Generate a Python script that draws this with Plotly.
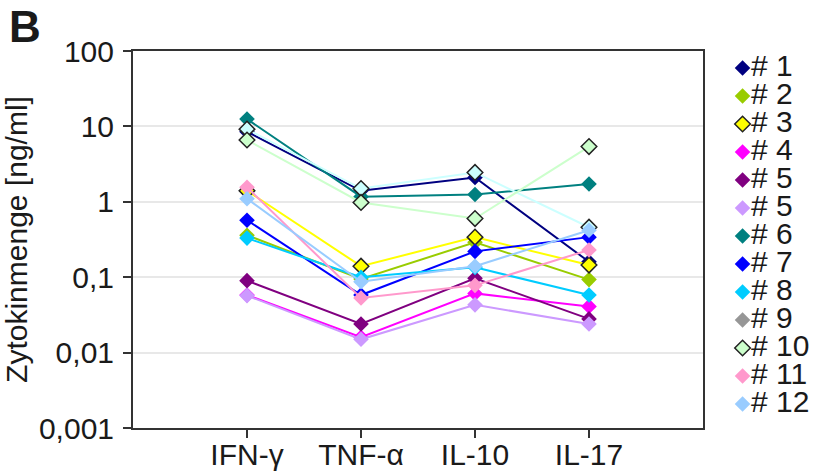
import plotly.graph_objects as go

# Cytokine panel: four cytokines, one line per donor
categories = ["IFN-γ", "TNF-α", "IL-10", "IL-17"]

series_names = ["# 1", "# 2", "# 3", "# 4", "# 5", "# 5", "# 6",
                "# 7", "# 8", "# 9", "# 10", "# 11", "# 12"]

d1 = [8.5, 1.4, 2.1, 0.16]
d2 = [0.36, 0.095, 0.29, 0.093]
d3 = [1.4, 0.14, 0.34, 0.145]
d4 = [0.058, 0.016, 0.061, 0.041]
d5a = [0.09, 0.024, 0.097, 0.028]
d5b = [0.057, 0.015, 0.043, 0.024]
d6 = [12.5, 1.17, 1.25, 1.72]
d7 = [0.57, 0.058, 0.22, 0.34]
d8 = [0.33, 0.10, 0.135, 0.058]
d9 = [9.2, 1.5, 2.45, 0.46]
d10 = [6.6, 0.98, 0.6, 5.4]
d11 = [1.56, 0.053, 0.078, 0.23]
d12 = [1.1, 0.087, 0.14, 0.42]

values = [d1, d2, d3, d4, d5a, d5b, d6, d7, d8, d9, d10, d11, d12]

colors = ["#000080", "#99cc00", "#ffff00", "#ff00ff", "#800080", "#cc99ff",
          "#008080", "#0000ff", "#00ccff", "#ccffff", "#ccffcc", "#ff99cc",
          "#99ccff"]
outlined = [False, False, True, False, False, False, False, False, False,
            True, True, False, False]
# key colours and outlines (donor 9 is keyed in plain grey)
key_colors = colors[:9] + ["#969696"] + colors[10:]
key_outlined = outlined[:9] + [False] + outlined[10:]

ytick_vals = [0.001, 0.01, 0.1, 1, 10, 100]
ytick_text = ["0,001", "0,01", "0,1", "1", "10", "100"]

FONT = "Liberation Sans, Arial, sans-serif"
INK = "#1a1a1a"
AXIS = "#333333"
EDGE = "#222222"
W, H = 818, 475
L = 133
PAPER_W = W - L

fig = go.Figure()
for name, vals, col, ol in zip(series_names, values, colors, outlined):
    fig.add_trace(go.Scatter(
        x=categories, y=vals, mode="lines+markers", name=name,
        line=dict(color=col, width=2),
        marker=dict(symbol="diamond", size=12, color=col,
                    line=dict(color=EDGE if ol else col,
                              width=1.5 if ol else 0)),
        showlegend=False, xaxis="x", yaxis="y"))

# Key: one row per donor, drawn on its own hidden axes
rows = list(range(len(series_names)))
fig.add_trace(go.Scatter(
    x=[0] * len(rows), y=rows, mode="markers+text",
    text=series_names, textposition="middle right",
    textfont=dict(size=30, family=FONT, color=INK),
    marker=dict(symbol="diamond", size=12, color=key_colors,
                line=dict(color=[EDGE if o else c for o, c in zip(key_outlined, key_colors)],
                          width=[1.5 if o else 0 for o in key_outlined])),
    showlegend=False, hoverinfo="skip", xaxis="x2", yaxis="y2", cliponaxis=False))

fig.update_layout(
    width=W, height=H,
    margin=dict(l=L, r=0, t=0, b=0),
    paper_bgcolor="white", plot_bgcolor="white",
    font=dict(family=FONT, color=INK, size=30),
    showlegend=False,
    annotations=[dict(text="<b>B</b>", xref="paper", yref="paper",
                      x=-(L - 7) / PAPER_W, y=1.0, xanchor="left", yanchor="top",
                      showarrow=False, font=dict(size=44, family=FONT, color=INK))],
    xaxis=dict(
        domain=[0, 570 / PAPER_W], automargin=False,
        type="category", categoryorder="array", categoryarray=categories,
        range=[-1, 4], showgrid=False, showline=True, linecolor=AXIS,
        linewidth=2, mirror=True, ticks="outside", ticklen=8, tickwidth=2,
        tickcolor=AXIS, tickfont=dict(size=30), ticklabelstandoff=-9,
        zeroline=False),
    yaxis=dict(
        domain=[47 / H, 424 / H], automargin=False,
        type="log", range=[-3, 2], tickvals=ytick_vals, ticktext=ytick_text,
        showgrid=True, gridcolor="#e8e8e8", gridwidth=2,
        showline=True, linecolor=AXIS, linewidth=2, mirror=True,
        ticks="outside", ticklen=8, tickwidth=2, tickcolor=AXIS,
        tickfont=dict(size=30), ticklabelstandoff=3,
        title=dict(text="Zytokinmenge [ng/ml]", font=dict(size=30), standoff=6)),
    xaxis2=dict(domain=[(735 - L) / PAPER_W, 1], range=[-0.1, 1], visible=False,
                fixedrange=True),
    yaxis2=dict(domain=[(H - 418) / H, (H - 54) / H], range=[12.5, -0.5],
                visible=False, fixedrange=True, anchor="x2"),
)

fig.write_html("out.html")
